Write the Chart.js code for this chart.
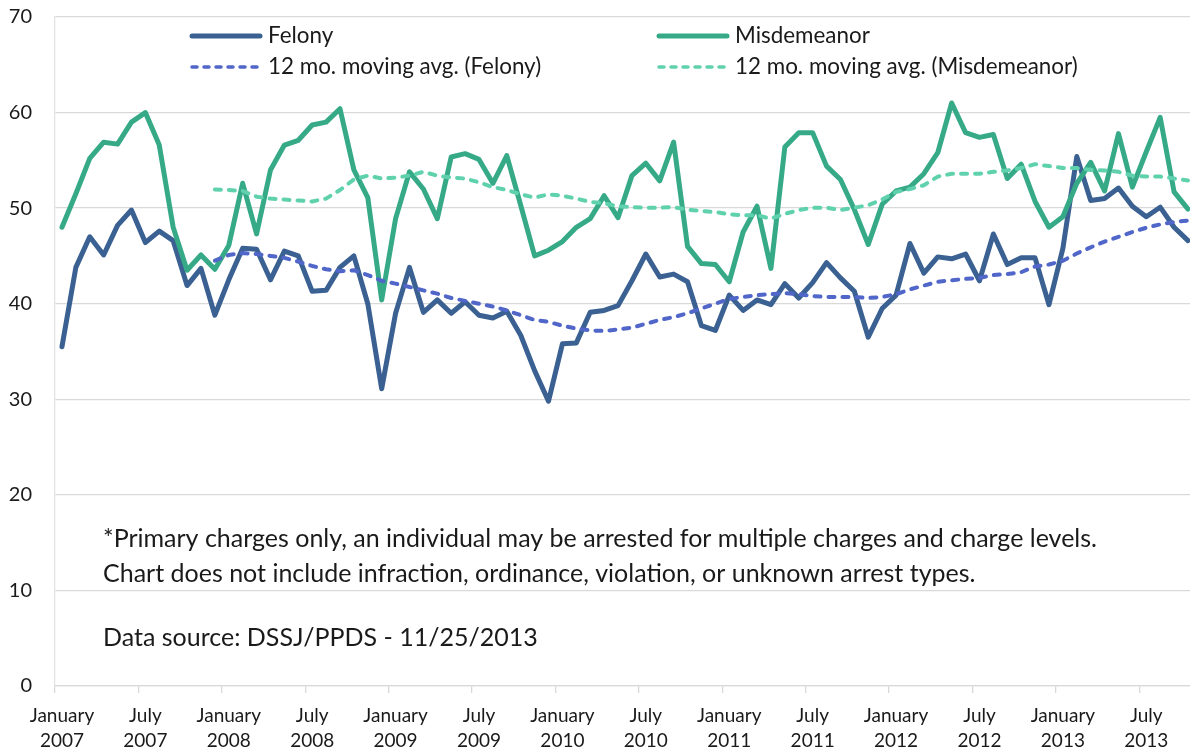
<!DOCTYPE html>
<html><head><meta charset="utf-8">
<script src="https://cdn.jsdelivr.net/npm/chart.js@4.4.1/dist/chart.umd.min.js"></script>
<style>
html,body{margin:0;padding:0;background:#fff;overflow:hidden;}
#wrap{width:1190px;height:752px;overflow:hidden;position:relative;}
canvas{display:block;}
</style></head><body>
<div id="wrap"><canvas id="c" width="1198" height="752"></canvas></div>
<script>
const categories = [
 '2007-01','2007-02','2007-03','2007-04','2007-05','2007-06','2007-07','2007-08','2007-09','2007-10','2007-11','2007-12',
 '2008-01','2008-02','2008-03','2008-04','2008-05','2008-06','2008-07','2008-08','2008-09','2008-10','2008-11','2008-12',
 '2009-01','2009-02','2009-03','2009-04','2009-05','2009-06','2009-07','2009-08','2009-09','2009-10','2009-11','2009-12',
 '2010-01','2010-02','2010-03','2010-04','2010-05','2010-06','2010-07','2010-08','2010-09','2010-10','2010-11','2010-12',
 '2011-01','2011-02','2011-03','2011-04','2011-05','2011-06','2011-07','2011-08','2011-09','2011-10','2011-11','2011-12',
 '2012-01','2012-02','2012-03','2012-04','2012-05','2012-06','2012-07','2012-08','2012-09','2012-10','2012-11','2012-12',
 '2013-01','2013-02','2013-03','2013-04','2013-05','2013-06','2013-07','2013-08','2013-09','2013-10'
];
const xTickLabels = [
 ['January','2007'],['July','2007'],['January','2008'],['July','2008'],['January','2009'],['July','2009'],
 ['January','2010'],['July','2010'],['January','2011'],['July','2011'],['January','2012'],['July','2012'],
 ['January','2013'],['July','2013']
];
const yTicks = [0,10,20,30,40,50,60,70];

const felony = [
 35.5,43.8,47.0,45.1,48.2,49.8,46.4,47.6,46.6,41.9,43.7,38.8,
 42.5,45.8,45.7,42.5,45.5,45.0,41.3,41.4,43.8,45.0,40.0,31.1,
 39.0,43.8,39.1,40.4,39.0,40.2,38.8,38.5,39.2,36.7,33.0,29.8,
 35.8,35.9,39.1,39.3,39.8,42.4,45.2,42.8,43.1,42.3,37.7,37.2,
 40.9,39.3,40.4,39.9,42.1,40.6,42.2,44.3,42.7,41.3,36.5,39.5,
 40.9,46.3,43.2,44.9,44.7,45.2,42.4,47.3,44.1,44.8,44.8,39.9,
 45.8,55.4,50.8,51.0,52.1,50.2,49.1,50.1,48.0,46.6
];
const misdemeanor = [
 48.0,51.5,55.2,56.9,56.7,59.0,60.0,56.6,48.0,43.5,45.1,43.6,
 46.1,52.6,47.3,54.0,56.6,57.1,58.7,59.0,60.4,54.0,51.1,40.4,
 48.9,53.8,52.0,48.9,55.35,55.7,55.1,52.6,55.5,50.3,45.0,45.6,
 46.5,48.0,48.9,51.3,49.0,53.4,54.7,52.85,56.9,46.0,44.2,44.1,
 42.3,47.5,50.2,43.7,56.4,57.9,57.9,54.4,53.0,49.85,46.2,50.4,
 51.8,52.2,53.6,55.8,61.0,57.9,57.4,57.7,53.1,54.6,50.7,48.0,
 49.1,52.6,54.8,51.8,57.8,52.2,55.9,59.5,51.7,49.9
];
const felonyAvg = [
 null,null,null,null,null,null,null,null,null,null,null,44.5,
 45.1,45.3,45.2,45.0,44.8,44.4,43.95,43.6,43.4,43.5,43.0,42.4,
 42.1,41.75,41.4,41.05,40.6,40.3,40.0,39.7,39.3,38.8,38.3,38.1,
 37.7,37.4,37.2,37.15,37.3,37.5,37.9,38.3,38.6,39.0,39.5,40.0,
 40.5,40.7,40.9,41.0,41.1,41.0,40.8,40.7,40.7,40.7,40.6,40.7,
 41.0,41.5,41.9,42.3,42.45,42.6,42.7,43.0,43.1,43.3,43.9,44.1,
 44.5,45.25,45.9,46.5,47.0,47.5,47.95,48.3,48.55,48.7
];
const misdemeanorAvg = [
 null,null,null,null,null,null,null,null,null,null,null,51.95,
 51.9,51.8,51.2,51.0,50.9,50.8,50.7,51.0,51.9,53.0,53.4,53.1,
 53.2,53.4,53.8,53.4,53.2,53.1,52.7,52.2,51.9,51.45,51.1,51.45,
 51.3,51.0,50.65,50.5,50.2,50.1,50.05,50.05,50.1,49.85,49.7,49.6,
 49.35,49.25,49.25,48.9,49.4,49.8,50.05,50.05,49.8,50.05,50.3,50.9,
 51.7,52.0,52.4,53.3,53.6,53.6,53.6,53.8,53.95,54.2,54.6,54.4,
 54.2,54.2,54.0,53.95,53.8,53.4,53.3,53.3,53.1,52.9
];
const seriesNames = ['Felony','Misdemeanor','12 mo. moving avg. (Felony)','12 mo. moving avg. (Misdemeanor)'];
const footnoteLines = [
 '*Primary charges only, an individual may be arrested for multiple charges and charge levels.',
 'Chart does not include infraction, ordinance, violation, or unknown arrest types.',
 'Data source: DSSJ/PPDS - 11/25/2013'
];

const FONT = 'Lato, "Open Sans", sans-serif';
const TEXT = '#1a1a1a';
const GRID = '#d9d9d9';

function fitSize(ctx, text, target, weight) {
  ctx.font = (weight||'') + ' 100px ' + FONT;
  const w = ctx.measureText(text).width;
  return 100 * target / w;
}

const overlay = {
  id: 'overlay',
  afterDraw(chart) {
    const ctx = chart.ctx;
    const a = chart.chartArea;
    ctx.save();
    const legSize = fitSize(ctx, seriesNames[3], 343);
    ctx.font = legSize.toFixed(2) + 'px ' + FONT;
    ctx.fillStyle = TEXT;
    ctx.textBaseline = 'alphabetic';
    ctx.textAlign = 'left';
    const cols = [a.left + 135, a.left + 602];
    const rows = [36, 67];
    const pos = [[0,0],[1,0],[0,1],[1,1]];
    chart.data.datasets.forEach((ds, i) => {
      const [c, r] = pos[i];
      const x = cols[c], y = rows[r];
      ctx.beginPath();
      ctx.strokeStyle = ds.borderColor;
      ctx.lineWidth = ds.borderDash ? 3.5 : 5;
      ctx.lineCap = 'round';
      ctx.setLineDash(ds.borderDash ? [5, 7] : []);
      ctx.moveTo(x + 2, y);
      ctx.lineTo(x + 70, y);
      ctx.stroke();
      ctx.setLineDash([]);
      ctx.fillText(ds.label, x + 78, y + 7);
    });
    const fs = fitSize(ctx, footnoteLines[0], 994);
    ctx.font = fs.toFixed(2) + 'px ' + FONT;
    const baselines = [547, 582, 646];
    footnoteLines.forEach((t, i) => ctx.fillText(t, a.left + 48, baselines[i]));
    ctx.restore();
  }
};

new Chart(document.getElementById('c'), {
  type: 'line',
  data: {
    labels: categories,
    datasets: [
      { label: seriesNames[0], data: felony, borderColor: '#3a6192', borderWidth: 5, order: 3 },
      { label: seriesNames[1], data: misdemeanor, borderColor: '#36aa87', borderWidth: 5, order: 2 },
      { label: seriesNames[2], data: felonyAvg, borderColor: '#5166c9', borderWidth: 4, borderDash: [6, 8], order: 1 },
      { label: seriesNames[3], data: misdemeanorAvg, borderColor: '#60d1ad', borderWidth: 4, borderDash: [6, 8], order: 0 }
    ]
  },
  options: {
    responsive: false,
    animation: false,
    devicePixelRatio: 1,
    layout: { padding: { top: 17, right: 1, left: 0, bottom: 0 } },
    elements: {
      point: { radius: 0, hoverRadius: 0 },
      line: { tension: 0, borderJoinStyle: 'round', borderCapStyle: 'round', fill: false, spanGaps: false }
    },
    plugins: { legend: { display: false }, tooltip: { enabled: false }, title: { display: false } },
    scales: {
      x: {
        type: 'category',
        offset: true,
        grid: {
          offset: true,
          drawOnChartArea: false,
          drawTicks: true,
          tickLength: 7,
          lineWidth: 1.3,
          color: (ctx) => (ctx.index % 6 === 0 ? GRID : 'rgba(0,0,0,0)')
        },
        border: { display: true, color: GRID, width: 1.3 },
        ticks: {
          autoSkip: false, maxRotation: 0, minRotation: 0,
          padding: 10,
          color: TEXT,
          font: { family: FONT, size: 19, lineHeight: 1.32 },
          callback: (v, i) => (i % 6 === 0 ? xTickLabels[i / 6] : '')
        },
        afterFit: (s) => { s.height = 66; }
      },
      y: {
        min: 0, max: 70,
        afterBuildTicks: (s) => { s.ticks = yTicks.map(v => ({ value: v })); },
        grid: { color: GRID, lineWidth: 1.3, drawTicks: false },
        border: { display: true, color: '#e3e3e3', width: 1.3 },
        ticks: { padding: 23, color: TEXT, font: { family: FONT, size: 20 } },
        afterFit: (s) => { s.width = 55; s.paddingTop = 0; s.paddingBottom = 0; }
      }
    }
  },
  plugins: [overlay]
});
</script>
</body></html>
